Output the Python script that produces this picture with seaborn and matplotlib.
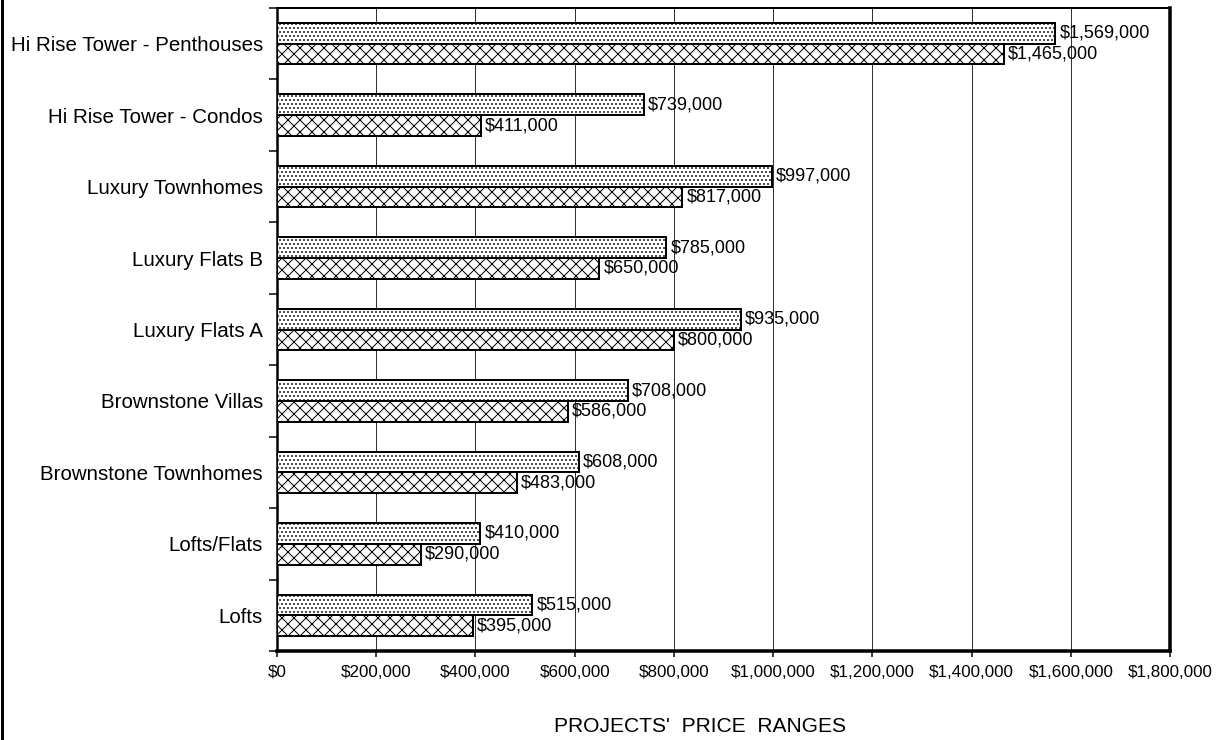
import matplotlib
matplotlib.use("Agg")
import matplotlib.pyplot as plt
from matplotlib.lines import Line2D
from matplotlib.ticker import FuncFormatter, MultipleLocator
import numpy as np
import pandas as pd
import seaborn as sns

# ---- data ----
projects = [
    "Hi Rise Tower - Penthouses",
    "Hi Rise Tower - Condos",
    "Luxury Townhomes",
    "Luxury Flats B",
    "Luxury Flats A",
    "Brownstone Villas",
    "Brownstone Townhomes",
    "Lofts/Flats",
    "Lofts",
]
high_prices = [1569000, 739000, 997000, 785000, 935000, 708000, 608000, 410000, 515000]
low_prices = [1465000, 411000, 817000, 650000, 800000, 586000, 483000, 290000, 395000]
series_names = ["High", "Low"]
x_label = "PROJECTS'  PRICE  RANGES"

df = pd.DataFrame({
    "project": projects * 2,
    "price": high_prices + low_prices,
    "series": [series_names[0]] * len(projects) + [series_names[1]] * len(projects),
})

plt.rcParams["font.family"] = ["Liberation Sans", "DejaVu Sans"]
plt.rcParams["hatch.linewidth"] = 1.0

W, H, DPI = 1219, 740, 72
fig = plt.figure(figsize=(W / DPI, H / DPI), dpi=DPI)
ax = fig.add_axes([277 / W, (H - 651) / H, (1170 - 277) / W, (651 - 8) / H])

sns.barplot(
    data=df, y="project", x="price", hue="series", orient="h",
    order=projects, hue_order=series_names,
    palette=["white", "white"], saturation=1, width=0.58,
    edgecolor="black", linewidth=2, legend=False, ax=ax, zorder=3,
)

hatches = ["...", "xx"]
for cont, h in zip(ax.containers, hatches):
    for p in cont:
        p.set_hatch(h)
        p.set_edgecolor("black")

for cont, vals in zip(ax.containers, [high_prices, low_prices]):
    ax.bar_label(cont, labels=[f"${v:,.0f}" for v in vals], padding=4,
                 fontsize=18, color="black", zorder=4)

ax.set_xlim(0, 1800000)
ax.set_ylim(len(projects) - 0.5, -0.5)
ax.xaxis.set_major_locator(MultipleLocator(200000))
ax.xaxis.set_major_formatter(FuncFormatter(lambda v, p: f"${v:,.0f}"))

ax.grid(axis="x", color="#333333", linewidth=1, zorder=0)
ax.set_axisbelow(True)

ax.set_yticks(np.arange(-0.5, len(projects), 1), minor=True)
ax.tick_params(axis="y", which="major", length=0, pad=14, labelsize=20.5)
ax.tick_params(axis="y", which="minor", length=8, width=1.5, direction="out")
ax.tick_params(axis="x", which="major", length=6, width=1.5, direction="out",
               pad=8, labelsize=17)

ax.set_xlabel("")
ax.set_ylabel("")

for side, lw in [("top", 2), ("left", 2.5), ("bottom", 3.5), ("right", 3.5)]:
    ax.spines[side].set_linewidth(lw)
    ax.spines[side].set_color("black")

fig.text(700 / W, 1 - 726 / H, x_label, ha="center", va="center", fontsize=21)

fig.add_artist(Line2D([1.5 / W, 1.5 / W], [0, 1], transform=fig.transFigure,
                      color="black", linewidth=3))

fig.savefig("out.png", dpi=DPI, facecolor="white")
